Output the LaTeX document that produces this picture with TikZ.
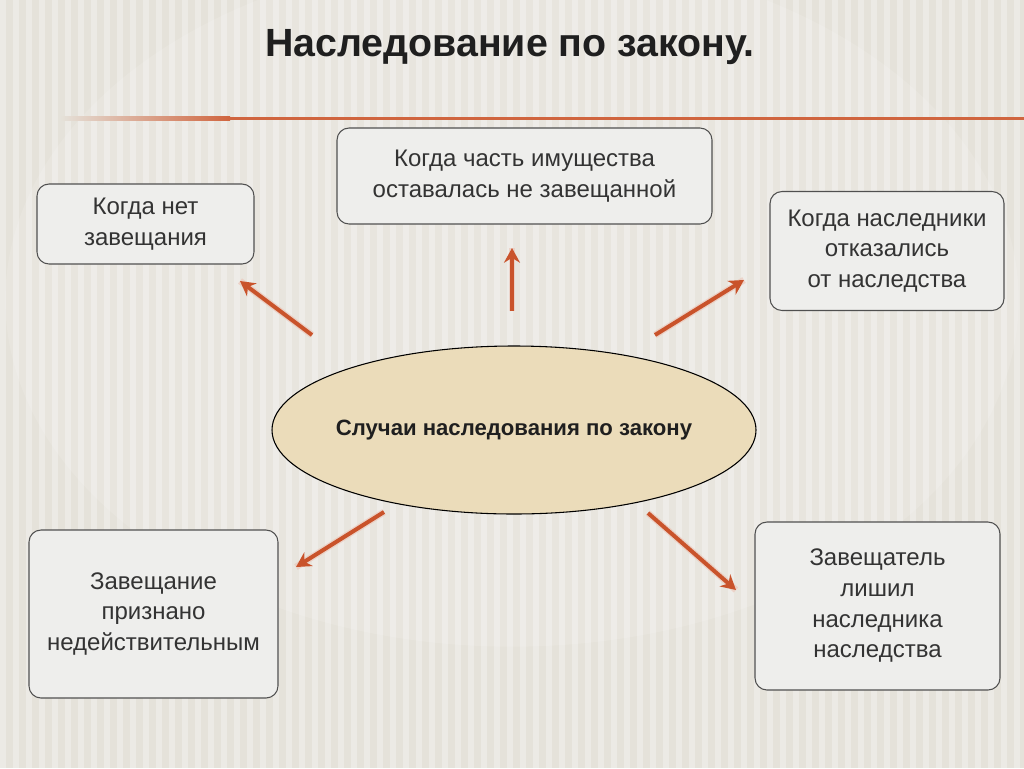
\documentclass[tikz,border=0pt]{standalone}
\usepackage{fontspec}
\setmainfont{Liberation Sans}
\usetikzlibrary{arrows.meta,shapes.geometric}
\definecolor{bg}{HTML}{E5E2DA}
\definecolor{rule}{HTML}{D0653F}
\definecolor{arr}{HTML}{C9532B}
\definecolor{boxfill}{HTML}{EEEEEC}
\definecolor{boxline}{HTML}{505050}
\definecolor{ellfill}{HTML}{EBDCBA}
\tikzset{
  casebox/.style={draw=boxline, line width=0.8pt, fill=boxfill, rounded corners=9pt,
    align=center, inner sep=0pt, font=\fontsize{18}{23}\selectfont, text=black!80},
  arrowline/.style={draw=arr, line width=3pt, -{Stealth[length=11pt,width=12pt]}},
  glow/.style={draw=arr!35, line width=5pt, opacity=0.6}
}
\begin{document}
\begin{tikzpicture}[x=0.75pt,y=-0.75pt]
\useasboundingbox (0,0) rectangle (1024,768);
\fill[bg] (0,0) rectangle (1024,768);
\foreach \i in {0,13,...,1024} \fill[white,opacity=0.3] (\i,0) rectangle ++(6,768);
\fill[white,opacity=0.12] (512,300) ellipse (380pt and 260pt);
% title
\node[font=\bfseries\fontsize{29.5}{34}\selectfont, text=black!88] (title) at (510,47) {Наследование по закону.};
% orange rule
\fill[left color=bg, right color=rule] (60,116.5) rectangle (230,120);
\fill[rule] (230,116.5) rectangle (1024,120);
% boxes
\node[casebox, minimum width=217*0.75pt, minimum height=80*0.75pt] (b1) at (145.5,224) {Когда нет\\завещания};
\node[casebox, minimum width=375*0.75pt, minimum height=96*0.75pt] (b2) at (524.5,176) {Когда часть имущества\\оставалась не завещанной};
\node[casebox, minimum width=234*0.75pt, minimum height=119*0.75pt] (b3) at (887,251) {Когда наследники\\отказались\\от наследства};
\node[casebox, minimum width=249*0.75pt, minimum height=168*0.75pt] (b4) at (153.5,614) {Завещание\\признано\\недействительным};
\node[casebox, minimum width=245*0.75pt, minimum height=168*0.75pt] (b5) at (877.5,606) {Завещатель\\лишил\\наследника\\наследства};
% ellipse
\node[ellipse, draw=black, line width=0.8pt, fill=ellfill, minimum width=484*0.75pt, minimum height=168*0.75pt, inner sep=0pt] (e) at (514,430) {};
\node[font=\bfseries\fontsize{16.6}{20}\selectfont, text=black!88] (elabel) at (e.center) {Случаи наследования по закону};
% arrow ends
\coordinate (s1) at (312,335); \coordinate (t1) at (240,281);
\coordinate (s2) at (512,311); \coordinate (t2) at (512,248);
\coordinate (s3) at (655,335); \coordinate (t3) at (744,280);
\coordinate (s4) at (384,512); \coordinate (t4) at (296,567);
\coordinate (s5) at (648,513); \coordinate (t5) at (736,590);
\foreach \k in {1,...,5} {
  \draw[glow] (s\k) -- (t\k);
  \draw[arrowline] (s\k) -- (t\k);
}
\end{tikzpicture}
\end{document}
